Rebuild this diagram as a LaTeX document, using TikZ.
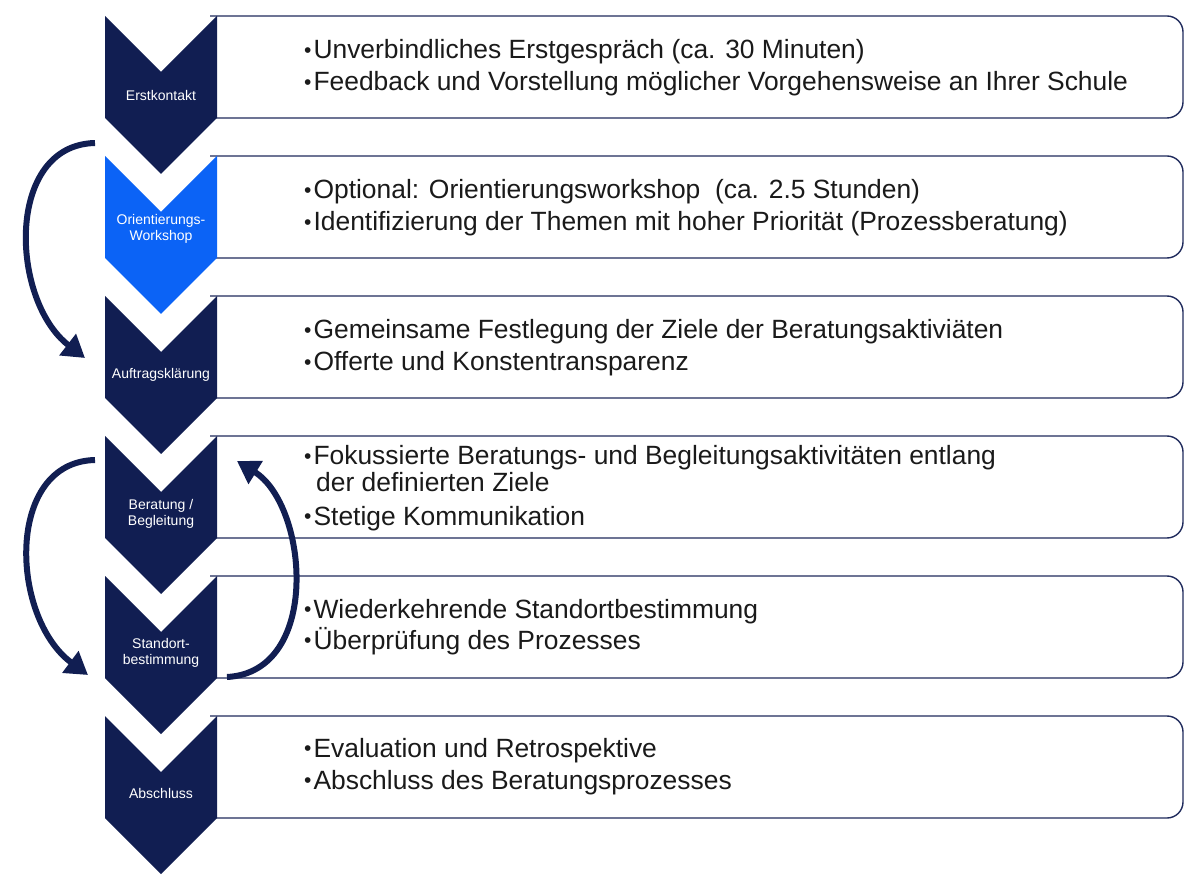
\documentclass[tikz,border=0pt]{standalone}
\usepackage{fontspec}
\setmainfont{Liberation Sans}
\usetikzlibrary{arrows.meta}
\definecolor{navy}{HTML}{111E52}
\definecolor{lblue}{HTML}{0B63F6}
\definecolor{boxline}{HTML}{1F2A5C}
\definecolor{txt}{HTML}{1A1A1A}
\newcommand\itembul{{\fontsize{21}{21}\selectfont\raisebox{1.8pt}{•}}\hspace{2pt}}
\begin{document}
\begin{tikzpicture}[x=1pt,y=-1pt,
  boxline/.style={draw=boxline,line width=1.4pt,rounded corners=16pt,fill=white},
  chevlabel/.style={text=white,align=center,font=\fontsize{14}{15.5}\selectfont},
  itemtxt/.style={text=txt,anchor=base west,inner sep=0pt,font=\fontsize{26.4}{30}\selectfont},
  loop/.style={draw=navy,line width=6pt,-{Triangle[length=22pt,width=26pt]}}]
\useasboundingbox (0,0) rectangle (1200,882);
% boxes
\foreach \t in {16,156,296,436,576,716}{
  \draw[boxline] (210,\t) -- (1183,\t) -- (1183,\t+102) -- (210,\t+102);
}
% chevrons
\foreach \t/\c in {16/navy,156/lblue,296/navy,436/navy,576/navy,716/navy}{
  \fill[\c] (105,\t) -- (161,\t+56) -- (217,\t) -- (217,\t+102) -- (161,\t+158) -- (105,\t+102) -- cycle;
}
% chevron labels
\node[chevlabel] (c1) at (161,95) {Erstkontakt};
\node[chevlabel] (c2) at (161,229) {Orientierungs-\\Workshop};
\node[chevlabel] (c3) at (161,375) {Auftragsklärung};
\node[chevlabel] (c4) at (161,514) {Beratung /\\Begleitung};
\node[chevlabel] (c5) at (161,653) {Standort-\\bestimmung};
\node[chevlabel] (c6) at (161,793) {Abschluss};
% texts
\node[itemtxt] (t1a) at (304,59) {\itembul Unverbindliches Erstgespräch (ca. 30 Minuten)};
\node[itemtxt] (t1b) at (304,91) {\itembul Feedback und Vorstellung möglicher Vorgehensweise an Ihrer Schule};
\node[itemtxt] (t2a) at (304,199) {\itembul Optional: Orientierungsworkshop\ \ (ca. 2.5 Stunden)};
\node[itemtxt] (t2b) at (304,231) {\itembul Identifizierung der Themen mit hoher Priorität (Prozessberatung)};
\node[itemtxt] (t3a) at (304,339) {\itembul Gemeinsame Festlegung der Ziele der Beratungsaktiviäten};
\node[itemtxt] (t3b) at (304,371) {\itembul Offerte und Konstentransparenz};
\node[itemtxt] (t4a) at (304,465) {\itembul Fokussierte Beratungs- und Begleitungsaktivitäten entlang};
\node[itemtxt] (t4b) at (316,492) {der definierten Ziele};
\node[itemtxt] (t4c) at (304,525) {\itembul Stetige Kommunikation};
\node[itemtxt] (t5a) at (304,618) {\itembul Wiederkehrende Standortbestimmung};
\node[itemtxt] (t5b) at (304,649) {\itembul Überprüfung des Prozesses};
\node[itemtxt] (t6a) at (304,757) {\itembul Evaluation und Retrospektive};
\node[itemtxt] (t6b) at (304,789) {\itembul Abschluss des Beratungsprozesses};
% loop arrows
\coordinate (a1s) at (95,143);
\coordinate (a1e) at (85,358);
\coordinate (a2s) at (95,460);
\coordinate (a2e) at (88,675);
\coordinate (a3s) at (227,677);
\coordinate (a3e) at (237,461);
\draw[loop] (a1s) .. controls (5,145) and (10,300) .. (a1e);
\draw[loop] (a2s) .. controls (5,462) and (10,617) .. (a2e);
\draw[loop] (a3s) .. controls (322,672) and (308,505) .. (a3e);
\end{tikzpicture}
\end{document}
